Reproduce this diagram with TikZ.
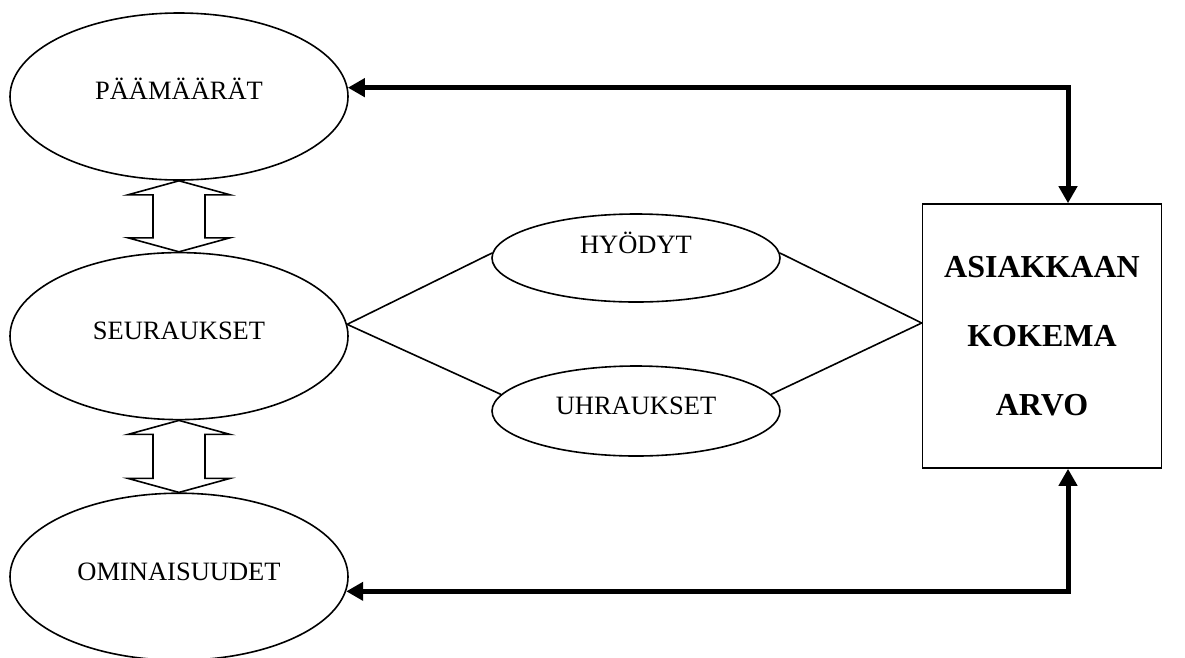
\documentclass[tikz,border=0pt]{standalone}
\usepackage{fontspec}
\setmainfont{Liberation Serif}
\usetikzlibrary{shapes.geometric, positioning, arrows.meta}

\begin{document}
\begin{tikzpicture}[x=1pt, y=-1pt,
        font=\fontsize{26.5}{30}\selectfont,
        ell/.style={ellipse, draw, line width=1.6pt, inner sep=0pt,
            text height=0.66em, text depth=0pt},
        big/.style={ell, minimum width=338pt, minimum height=167pt},
        small/.style={ell, minimum width=288pt, minimum height=88pt},
        dbl/.style={draw, line width=1.6pt, line join=miter},
        fat/.style={line width=5pt,
            {Triangle[length=17pt,width=18pt]}-{Triangle[length=17pt,width=18pt]}}]
        \useasboundingbox (0,0) rectangle (1185,657);

        \node[big]                      (paa) at (179,96.5) {PÄÄMÄÄRÄT};
        \node[big, below=71pt of paa]   (seu) {SEURAUKSET};
        \node[big, below=72pt of seu]   (omi) {OMINAISUUDET};

        \node[small, label={[yshift=15pt]center:HYÖDYT}] (hyo) at (636,258) {};
        \node[small, minimum height=90pt] (uhr) at (636,411) {UHRAUKSET};

        \node[draw, line width=1.6pt, minimum width=239pt, minimum height=264pt,
            align=center, font=\bfseries\fontsize{32}{69}\selectfont]
            (box) at (1042,336) {ASIAKKAAN\\KOKEMA\\ARVO};

        % double arrows between the left ellipses
        \foreach \a/\b in {paa/seu, seu/omi}
            \draw[dbl] (\a.south) -- ++(51,14) -- ++(-25,0)
                -- ([shift={(26,-14)}]\b.north) -- ++(25,0) -- (\b.north)
                -- ++(-51,-14) -- ++(25,0)
                -- ([shift={(-26,14)}]\a.south) -- ++(-25,0) -- cycle;

        \draw[line width=1.6pt]
            (seu.4) -- (hyo.178)
            (seu.4) -- (uhr.173)
            (hyo.2) -- ([yshift=13pt]box.west)
            (uhr.7) -- ([yshift=13pt]box.west);

        \draw[fat] (paa.3.5) -| ([xshift=26pt]box.north);
        \draw[fat] (omi.-5) -| ([xshift=26pt]box.south);
\end{tikzpicture}
\end{document}
